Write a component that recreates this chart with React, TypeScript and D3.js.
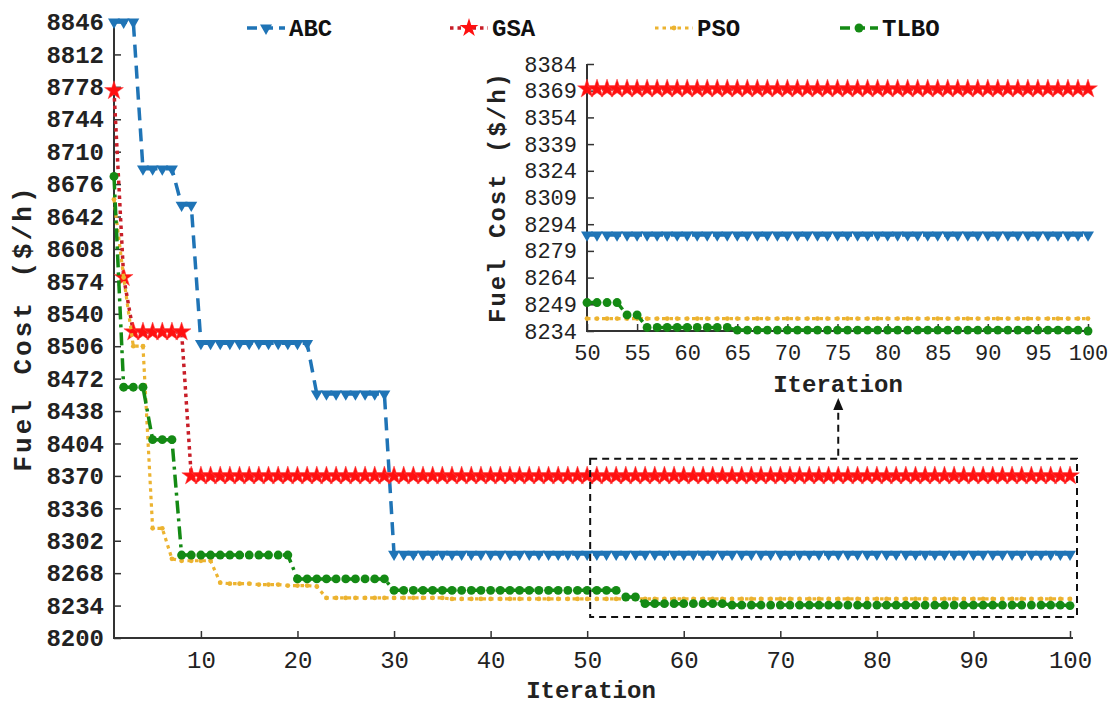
import React, { useEffect, useRef } from 'react';
import * as d3 from 'd3';

// best fuel cost per iteration, written as [number of iterations, value]
const abcRuns = [[3, 8846], [4, 8692], [2, 8654], [12, 8509], [8, 8456], [71, 8288]];
const gsaRuns = [[1, 8774], [1, 8578], [6, 8521], [92, 8370]];
const psoRuns = [[1, 8660], [1, 8578], [2, 8506], [2, 8315], [1, 8283], [4, 8281], [1, 8258], [3, 8257], [3, 8256], [3, 8255], [1, 8254], [13, 8242], [65, 8241]];
const tlboRuns = [[1, 8684], [3, 8463], [3, 8408], [12, 8287], [10, 8262], [24, 8250], [2, 8243], [9, 8236], [35, 8234.5], [1, 8234]];

const mainXTicks = [10, 20, 30, 40, 50, 60, 70, 80, 90, 100];
const mainYTicks = [8200, 8234, 8268, 8302, 8336, 8370, 8404, 8438, 8472, 8506, 8540, 8574, 8608, 8642, 8676, 8710, 8744, 8778, 8812, 8846];
const insetXTicks = [50, 55, 60, 65, 70, 75, 80, 85, 90, 95, 100];
const insetYTicks = [8234, 8249, 8264, 8279, 8294, 8309, 8324, 8339, 8354, 8369, 8384];

const expand = (runs: number[][]) => {
  const out: { it: number; v: number }[] = [];
  runs.forEach(([n, v]) => {
    for (let k = 0; k < n; k++) out.push({ it: out.length + 1, v });
  });
  return out;
};

const series = [
  { name: 'ABC', data: expand(abcRuns), line: '#1f74b6', fill: '#1f74b6', width: 3.5, dash: '13 8', marker: 'tri' },
  { name: 'GSA', data: expand(gsaRuns), line: '#c81e28', fill: '#ff1010', width: 3.5, dash: '3.5 4', marker: 'star' },
  { name: 'PSO', data: expand(psoRuns), line: '#ecb330', fill: '#ecb330', width: 3.2, dash: '3.5 4', marker: 'dot' },
  { name: 'TLBO', data: expand(tlboRuns), line: '#148a14', fill: '#148a14', width: 3.5, dash: '13 5 3 5', marker: 'circle' },
];

const FONT = '"Liberation Mono", "DejaVu Sans Mono", monospace';

function markerPath(kind: string) {
  if (kind === 'tri') return d3.symbol().type(d3.symbolTriangle).size(62)();
  if (kind === 'star') return d3.symbol().type(d3.symbolStar).size(110)();
  if (kind === 'dot') return d3.symbol().type(d3.symbolCircle).size(18)();
  return d3.symbol().type(d3.symbolCircle).size(62)();
}

function ConvergenceChart() {
  const ref = useRef<SVGSVGElement>(null);

  useEffect(() => {
    if (!ref.current) return;
    const svg = d3.select(ref.current);
    svg.selectAll('*').remove();

    const drawPanel = (
      g: any,
      x: d3.ScaleLinear<number, number>,
      y: d3.ScaleLinear<number, number>,
      xTicks: number[],
      yTicks: number[],
      from: number,
      yBold: boolean,
      fontSize: number,
    ) => {
      const [x0, x1] = x.range();
      const [yb, yt] = y.range();

      const yAxis = g.append('g')
        .attr('transform', `translate(${x0},0)`)
        .call(d3.axisLeft(y).tickValues(yTicks).tickSize(-7).tickSizeOuter(0).tickPadding(10).tickFormat(d3.format('d')));
      yAxis.select('.domain').remove();
      yAxis.selectAll('line').attr('stroke', '#333').attr('stroke-width', 1.5);
      yAxis.selectAll('text')
        .attr('font-family', FONT)
        .attr('font-size', fontSize)
        .attr('font-weight', yBold ? 'bold' : 'normal')
        .attr('fill', '#222');

      const xAxis = g.append('g')
        .attr('transform', `translate(0,${yb})`)
        .call(d3.axisBottom(x).tickValues(xTicks).tickSize(-7).tickSizeOuter(0).tickPadding(13));
      xAxis.select('.domain').remove();
      xAxis.selectAll('line').attr('stroke', '#333').attr('stroke-width', 1.5);
      xAxis.selectAll('text')
        .attr('font-family', FONT)
        .attr('font-size', fontSize)
        .attr('fill', '#222');

      g.append('path')
        .attr('d', `M${x0},${yt}V${yb}H${x1 + 3}`)
        .attr('fill', 'none')
        .attr('stroke', '#333')
        .attr('stroke-width', 2);

      series.forEach((s) => {
        const pts = s.data.filter((d) => d.it >= from);
        const line = d3.line<{ it: number; v: number }>().x((d) => x(d.it)).y((d) => y(d.v));
        g.append('path')
          .datum(pts)
          .attr('d', line)
          .attr('fill', 'none')
          .attr('stroke', s.line)
          .attr('stroke-width', s.width)
          .attr('stroke-dasharray', s.dash);
        g.selectAll(null)
          .data(pts)
          .join('path')
          .attr('d', markerPath(s.marker))
          .attr('transform', (d: any) => `translate(${x(d.it)},${y(d.v)})${s.marker === 'tri' ? ' rotate(180)' : ''}`)
          .attr('fill', s.fill)
          .attr('stroke', s.marker === 'star' ? '#ff4040' : 'none')
          .attr('stroke-width', 0.5);
      });
    };

    // main panel
    const x = d3.scaleLinear().domain([1, 100]).range([114, 1070]);
    const y = d3.scaleLinear().domain([8200, 8846]).range([638, 22]);
    drawPanel(svg.append('g'), x, y, mainXTicks, mainYTicks, 1, true, 24);

    svg.append('text')
      .attr('x', 591).attr('y', 698)
      .attr('text-anchor', 'middle')
      .attr('font-family', FONT).attr('font-weight', 'bold').attr('font-size', 24)
      .attr('fill', '#222')
      .text('Iteration');
    svg.append('text')
      .attr('transform', 'translate(31,328) rotate(-90)')
      .attr('text-anchor', 'middle')
      .attr('font-family', FONT).attr('font-weight', 'bold').attr('font-size', 26)
      .attr('letter-spacing', 3).attr('word-spacing', 4)
      .attr('fill', '#222')
      .text('Fuel Cost ($/h)');

    // zoom box and arrow
    svg.append('rect')
      .attr('x', x(50) + 3).attr('y', y(8388))
      .attr('width', x(100) - x(50) + 4).attr('height', y(8222) - y(8388))
      .attr('fill', 'none').attr('stroke', '#111').attr('stroke-width', 2)
      .attr('stroke-dasharray', '7 5');
    const ax = x(76);
    svg.append('line')
      .attr('x1', ax).attr('x2', ax).attr('y1', y(8388) - 3).attr('y2', 404)
      .attr('stroke', '#111').attr('stroke-width', 2).attr('stroke-dasharray', '7 5');
    svg.append('path')
      .attr('d', `M${ax - 5},${410}L${ax},${398}L${ax + 5},${410}Z`)
      .attr('fill', '#111');

    // inset panel
    const xi = d3.scaleLinear().domain([50, 100]).range([587, 1088]);
    const yi = d3.scaleLinear().domain([8234, 8384]).range([331, 64]);
    drawPanel(svg.append('g'), xi, yi, insetXTicks, insetYTicks, 50, false, 22);

    svg.append('text')
      .attr('x', 838).attr('y', 392)
      .attr('text-anchor', 'middle')
      .attr('font-family', FONT).attr('font-weight', 'bold').attr('font-size', 24)
      .attr('fill', '#222')
      .text('Iteration');
    svg.append('text')
      .attr('transform', 'translate(505,197) rotate(-90)')
      .attr('text-anchor', 'middle')
      .attr('font-family', FONT).attr('font-weight', 'bold').attr('font-size', 24)
      .attr('letter-spacing', 2).attr('word-spacing', 3)
      .attr('fill', '#222')
      .text('Fuel Cost ($/h)');

    // legend
    const legendX = [247, 450, 655, 840];
    series.forEach((s, i) => {
      const lg = svg.append('g').attr('transform', `translate(${legendX[i]},28)`);
      lg.append('line')
        .attr('x1', 0).attr('x2', 38).attr('y1', 0).attr('y2', 0)
        .attr('stroke', s.line).attr('stroke-width', s.width)
        .attr('stroke-dasharray', s.dash === '13 8' ? '10 6' : s.dash === '13 5 3 5' ? '10 5' : s.dash);
      lg.append('path')
        .attr('d', markerPath(s.marker))
        .attr('transform', `translate(19,0)${s.marker === 'tri' ? ' rotate(180)' : ''}`)
        .attr('fill', s.fill);
      lg.append('text')
        .attr('x', 42).attr('y', 8)
        .attr('font-family', FONT).attr('font-weight', 'bold').attr('font-size', 24)
        .attr('fill', '#111')
        .text(s.name);
    });
  }, []);

  return <svg ref={ref} width={1115} height={704} style={{ position: 'absolute', left: 0, top: 0, background: '#fff' }} />;
}

export default function App() {
  return <ConvergenceChart />;
}
